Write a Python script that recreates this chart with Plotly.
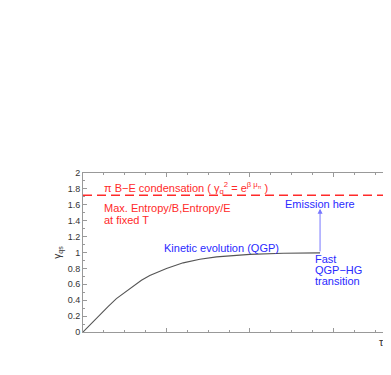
import plotly.graph_objects as go

# Kinetic evolution curve (tau in arbitrary units, gamma_qs values)
tau = [0, 0.1, 0.2, 0.3, 0.4, 0.5, 0.6, 0.7, 0.8, 0.9, 1.0, 1.2, 1.4, 1.6, 1.8, 2.0, 2.4, 2.84]
gamma_qs = [0, 0.11, 0.22, 0.32, 0.42, 0.50, 0.58, 0.65, 0.71, 0.76, 0.80, 0.87, 0.915, 0.945, 0.965, 0.977, 0.99, 0.995]

# Bose-Einstein condensation limit
be_limit = 1.72
tau_range = [0, 3.69]

# arrow (emission) and label positions
arrow_tau = 2.84
arrow_top = 1.55

y_ticks = [0, 0.2, 0.4, 0.6, 0.8, 1, 1.2, 1.4, 1.6, 1.8, 2]
y_tick_text = ["0", "0.2", "0.4", "0.6", "0.8", "1", "1.2", "1.4", "1.6", "1.8", "2"]

RED = "#ff2a2a"
BLUE = "#2a2aff"
FONT = "Liberation Sans, Arial, sans-serif"

fig = go.Figure()
fig.add_trace(go.Scatter(x=tau_range, y=[be_limit, be_limit], mode="lines",
                         line=dict(color=RED, width=1.5, dash="9px,5px"),
                         hoverinfo="skip", showlegend=False))
fig.add_trace(go.Scatter(x=tau, y=gamma_qs, mode="lines",
                         line=dict(color="#555555", width=1.1),
                         showlegend=False))

axis_common = dict(showline=True, linecolor="#999999", linewidth=1, mirror="ticks",
                   ticks="inside", tickcolor="#999999", ticklen=4, showgrid=False,
                   zeroline=False)
fig.update_xaxes(range=tau_range, dtick=1, tick0=0, showticklabels=False,
                 minor=dict(dtick=0.25, ticks="inside", ticklen=2, tickcolor="#999999"),
                 **axis_common)
fig.update_yaxes(range=[0, 2], tickvals=y_ticks, ticktext=y_tick_text,
                 tickfont=dict(size=9, color="#333333", family=FONT),
                 minor=dict(dtick=0.1, ticks="inside", ticklen=2, tickcolor="#999999"),
                 title=dict(text="γ<sub>qs</sub>", font=dict(size=10, color="#333333", family=FONT), standoff=4),
                 **axis_common)

def txt(x, y, s, color, xanchor="left", size=11):
    fig.add_annotation(x=x, y=y, xref="x", yref="y", text=s, showarrow=False,
                       xanchor=xanchor, yanchor="middle", align="left",
                       font=dict(size=size, color=color, family=FONT))

txt(0.23, 1.81, "π B−E condensation ( γ<sub>q</sub><sup>2</sup> = e<sup>β μ<sub>π</sub></sup> )", RED)
txt(0.23, 1.56, "Max. Entropy/B,Entropy/E", RED)
txt(0.23, 1.41, "at fixed T", RED)
txt(2.84, 1.61, "Emission here", BLUE, xanchor="center")
txt(0.95, 1.06, "Kinetic evolution (QGP)", BLUE)
txt(2.75, 0.92, "Fast", BLUE)
txt(2.75, 0.78, "QGP−HG", BLUE)
txt(2.75, 0.64, "transition", BLUE)

fig.add_annotation(x=arrow_tau, y=arrow_top, ax=arrow_tau, ay=gamma_qs[-1],
                   xref="x", yref="y", axref="x", ayref="y", text="",
                   showarrow=True, arrowhead=2, arrowsize=1, arrowwidth=1,
                   arrowcolor="#7777ff")

fig.add_annotation(x=1, y=0, xref="paper", yref="paper", xanchor="left", yanchor="top",
                   xshift=-14, yshift=-2, text="τ→", showarrow=False,
                   font=dict(size=11, color="#333333", family=FONT))

# page body adds an 8px offset, so the figure is made 8px smaller and margins shifted
fig.update_layout(width=383, height=367, margin=dict(l=75, r=0, t=165, b=43),
                  plot_bgcolor="white", paper_bgcolor="white")
fig.write_html("out.html")
